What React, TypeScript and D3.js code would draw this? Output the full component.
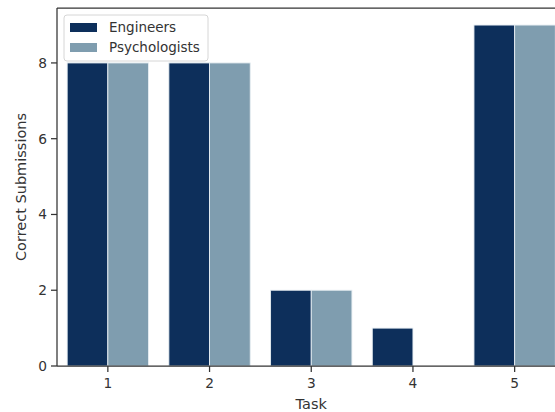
import React from 'react';
import * as d3 from 'd3';

const tasks = ['1', '2', '3', '4', '5'];
const groups = ['Engineers', 'Psychologists'];
const engineers = [8, 8, 2, 1, 9];
const psychologists = [8, 8, 2, 0, 9];
const yTicks = [0, 2, 4, 6, 8];
const colors = ['#0d2f5b', '#7f9daf'];

export default function App() {
    const W = 555, H = 412;
    const margin = { left: 57, top: 8, right: 565.5, bottom: 366 };
    const font = 'DejaVu Sans, sans-serif';
    const textColor = '#333';
    const fs = 13.75;

    const x = d3.scaleBand<string>()
        .domain(tasks)
        .range([margin.left, margin.right])
        .paddingInner(0.2)
        .paddingOuter(0.1);

    const xs = d3.scaleBand<string>()
        .domain(groups)
        .range([0, x.bandwidth()]);

    const y = d3.scaleLinear()
        .domain([0, 9 * 1.05])
        .range([margin.bottom, margin.top]);

    const series = [engineers, psychologists];

    return (
        <svg width={W} height={H} style={{ position: 'absolute', left: 0, top: 0, background: 'white' }}>
            {/* bars */}
            {series.map((vals, si) => (
                <g key={groups[si]}>
                    {vals.map((v, i) => v > 0 && (
                        <rect key={i}
                            x={(x(tasks[i]) ?? 0) + (xs(groups[si]) ?? 0)}
                            y={y(v)}
                            width={xs.bandwidth()}
                            height={y(0) - y(v)}
                            fill={colors[si]}
                            stroke="#e6edf2"
                            strokeWidth={0.9} />
                    ))}
                </g>
            ))}

            {/* spines */}
            <line x1={margin.left} x2={margin.left} y1={margin.top} y2={margin.bottom} stroke="#333" strokeWidth={1.25} />
            <line x1={margin.left} x2={W} y1={margin.bottom} y2={margin.bottom} stroke="#333" strokeWidth={1.25} />
            <line x1={margin.left} x2={W} y1={margin.top} y2={margin.top} stroke="#333" strokeWidth={1.25} />

            {/* y ticks */}
            {yTicks.map(t => (
                <g key={t} transform={`translate(0,${y(t)})`}>
                    <line x1={margin.left - 6} x2={margin.left} stroke="#333" strokeWidth={1.25} />
                    <text x={margin.left - 10} dy="0.35em" textAnchor="end" fontFamily={font} fontSize={fs} fill={textColor}>{t}</text>
                </g>
            ))}

            {/* x ticks */}
            {tasks.map(t => {
                const cx = (x(t) ?? 0) + x.bandwidth() / 2;
                return (
                    <g key={t} transform={`translate(${cx},${margin.bottom})`}>
                        <line y1={0} y2={6} stroke="#333" strokeWidth={1.25} />
                        <text y={22} textAnchor="middle" fontFamily={font} fontSize={fs} fill={textColor}>{t}</text>
                    </g>
                );
            })}

            {/* axis labels */}
            <text x={(margin.left + margin.right) / 2} y={409} textAnchor="middle" fontFamily={font} fontSize={14.5} fill={textColor}>Task</text>
            <text transform={`translate(25.5,${(margin.top + margin.bottom) / 2}) rotate(-90)`} textAnchor="middle" fontFamily={font} fontSize={14.5} fill={textColor}>Correct Submissions</text>

            {/* legend */}
            <g transform="translate(64,15)">
                <rect x={0} y={0} width={144} height={46} rx={3} fill="white" fillOpacity={0.8} stroke="#d6d6d6" strokeWidth={1} />
                {groups.map((gname, i) => (
                    <g key={gname} transform={`translate(0,${i * 20})`}>
                        <rect x={6} y={8} width={27} height={9} fill={colors[i]} />
                        <text x={45} y={12.5} dy="0.35em" fontFamily={font} fontSize={13.5} fill={textColor}>{gname}</text>
                    </g>
                ))}
            </g>
        </svg>
    );
}
